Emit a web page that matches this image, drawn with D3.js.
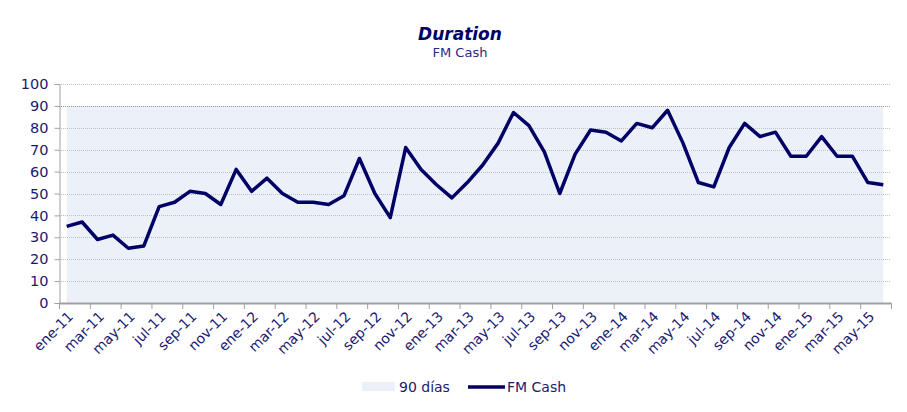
<!DOCTYPE html>
<html>
<head>
<meta charset="utf-8">
<script src="https://cdn.jsdelivr.net/npm/d3@7"></script>
<style>
  body { margin: 0; background: #fff; }
  text { font-family: "DejaVu Sans", Verdana, sans-serif; }
</style>
</head>
<body>
<div id="chart"></div>
<script>
// chart data
var years = ["11", "12", "13", "14", "15"];
var monthNames = ["ene", "feb", "mar", "abr", "may", "jun", "jul", "ago", "sep", "oct", "nov", "dic"];
var months = [];
years.forEach(function(y) {
  monthNames.forEach(function(m) { months.push(m + "-" + y); });
});
months = months.slice(0, 54); // ene-11 .. jun-15

var fmCash = [35, 37, 29, 31, 25, 26, 44, 46, 51, 50, 45, 61,
              51, 57, 50, 46, 46, 45, 49, 66, 50, 39, 71, 61,
              54, 48, 55, 63, 73, 87, 81, 69, 50, 68, 79, 78,
              74, 82, 80, 88, 73, 55, 53, 71, 82, 76, 78, 67,
              67, 76, 67, 67, 55, 54];
var limit90 = months.map(function() { return 90; });
var yTicks = [0, 10, 20, 30, 40, 50, 60, 70, 80, 90, 100];

var svgWidth = 907, svgHeight = 412;
var plotLeft = 59, plotRight = 891, plotTop = 84, plotBottom = 303;

var svg = d3.select("#chart").append("svg")
  .attr("width", svgWidth)
  .attr("height", svgHeight);

var navy = "#000066";
var labelColor = "#1a1a70";

// titles
svg.append("text")
  .attr("x", 460).attr("y", 40)
  .attr("text-anchor", "middle")
  .attr("font-size", 17).attr("font-weight", "bold").attr("font-style", "italic")
  .attr("fill", navy)
  .text("Duration");
svg.append("text")
  .attr("x", 460).attr("y", 57)
  .attr("text-anchor", "middle")
  .attr("font-size", 13)
  .attr("fill", "#2b2b80")
  .text("FM Cash");

// scales
var xScale = d3.scaleBand().domain(months).range([plotLeft, plotRight]).padding(0);
var yScale = d3.scaleLinear().domain([0, 100]).range([plotBottom, plotTop]);
var cx = function(d, i) { return xScale(months[i]) + xScale.bandwidth() / 2; };

// 90 days area
var area = d3.area()
  .x(cx)
  .y0(yScale(0))
  .y1(function(d) { return yScale(d); });
svg.append("path")
  .datum(limit90)
  .attr("d", area)
  .attr("fill", "#ECF0F8");

// gridlines
svg.append("g").selectAll("line")
  .data(yTicks.filter(function(t) { return t > 0; }))
  .enter().append("line")
  .attr("x1", plotLeft).attr("x2", plotRight)
  .attr("y1", function(d) { return Math.round(yScale(d)) + 0.5; })
  .attr("y2", function(d) { return Math.round(yScale(d)) + 0.5; })
  .attr("stroke", function(d) { return d === 90 ? "#999" : "#c2c2c2"; })
  .attr("stroke-width", 1)
  .attr("stroke-dasharray", "1,1");

// y axis
var yAxis = d3.axisLeft(yScale).tickValues(yTicks).tickSize(5).tickPadding(6);
var gy = svg.append("g")
  .attr("transform", "translate(" + (plotLeft + 0.5) + ",0)")
  .call(yAxis);
gy.select(".domain").attr("stroke", "#a0a0a0");
gy.selectAll(".tick line").attr("stroke", "#a0a0a0");
gy.selectAll(".tick text")
  .attr("font-size", 14.5)
  .attr("fill", labelColor)
  .attr("font-family", "DejaVu Sans, Verdana, sans-serif");

// x axis line and ticks every 2 months
svg.append("line")
  .attr("x1", plotLeft).attr("x2", plotRight)
  .attr("y1", plotBottom + 0.5).attr("y2", plotBottom + 0.5)
  .attr("stroke", "#a0a0a0").attr("stroke-width", 2);

var tickIdx = d3.range(0, months.length + 1, 2);
svg.append("g").selectAll("line")
  .data(tickIdx)
  .enter().append("line")
  .attr("x1", function(i) { return plotLeft + i * xScale.step() + 0.5; })
  .attr("x2", function(i) { return plotLeft + i * xScale.step() + 0.5; })
  .attr("y1", plotBottom).attr("y2", plotBottom + 6)
  .attr("stroke", "#a0a0a0");

var labelIdx = d3.range(0, months.length, 2);
svg.append("g").selectAll("text")
  .data(labelIdx)
  .enter().append("text")
  .attr("transform", function(i) {
    return "translate(" + (cx(null, i) + 4) + "," + (plotBottom + 11) + ")rotate(-45)";
  })
  .attr("text-anchor", "end")
  .attr("dy", "0.35em")
  .attr("font-size", 14)
  .attr("fill", labelColor)
  .text(function(i) { return months[i]; });

// FM Cash line
var line = d3.line()
  .x(cx)
  .y(function(d) { return yScale(d); });
svg.append("path")
  .datum(fmCash)
  .attr("d", line)
  .attr("fill", "none")
  .attr("stroke", navy)
  .attr("stroke-width", 3.5)
  .attr("stroke-linejoin", "round");

// legend
var legend = svg.append("g").attr("transform", "translate(0,387)");
legend.append("rect")
  .attr("x", 362).attr("y", -5).attr("width", 33).attr("height", 9)
  .attr("fill", "#ECF0F8");
legend.append("text")
  .attr("x", 399).attr("y", 0).attr("dy", "0.35em")
  .attr("font-size", 14).attr("fill", labelColor)
  .text("90 días");
legend.append("line")
  .attr("x1", 468).attr("x2", 505).attr("y1", 0).attr("y2", 0)
  .attr("stroke", navy).attr("stroke-width", 3.5);
legend.append("text")
  .attr("x", 507).attr("y", 0).attr("dy", "0.35em")
  .attr("font-size", 14).attr("fill", labelColor)
  .text("FM Cash");
</script>
</body>
</html>
